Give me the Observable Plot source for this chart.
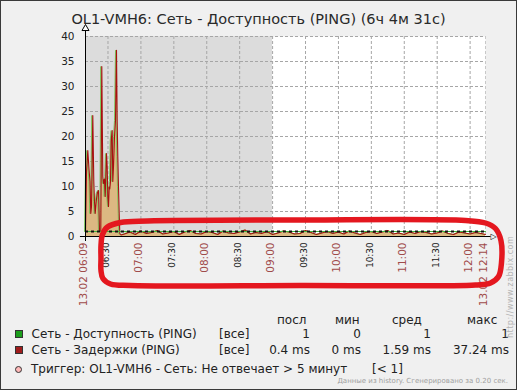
<!DOCTYPE html>
<html><head><meta charset="utf-8">
<script src="https://cdn.jsdelivr.net/npm/d3@7"></script>
<script src="https://cdn.jsdelivr.net/npm/@observablehq/plot@0.6"></script>
<style>
html,body{margin:0;padding:0;background:#fff;}
#chart{position:relative;width:517px;height:390px;background:#f0f0f0;overflow:hidden;font-family:"DejaVu Sans",sans-serif;color:#222;}
#chart svg{position:absolute;left:0;top:0;}
.abs{position:absolute;white-space:nowrap;}
#border{position:absolute;left:0;top:0;width:517px;height:390px;box-sizing:border-box;border:1px solid #3a3a3a;pointer-events:none;}
</style></head><body><div id="chart"></div>
<script>
// ---------- data ----------
const title = "OL1-VMH6: Сеть - Доступность (PING) (6ч 4м 31с)";
const startTime = "06:09:30", endTime = "12:14:01";
const shadeFrom = "06:09:30", shadeTo = "09:00:00";
const yTicks = [0, 5, 10, 15, 20, 25, 30, 35, 40];
const halfHourTicks = ["06:30", "07:30", "08:30", "09:30", "10:30", "11:30"];
const hourTicks = ["07:00", "08:00", "09:00", "10:00", "11:00", "12:00"];
const edgeTimes = ["06:09:30", "12:14:01"];
const edgeLabels = ["13.02 06:09", "13.02 12:14"];

const latencyTimes = [
  "06:09:30","06:10:25","06:11:36","06:12:41","06:13:36","06:14:20","06:14:58","06:16:09","06:17:04","06:17:42",
  "06:18:20","06:19:15","06:20:10","06:21:21","06:22:16","06:23:26","06:24:21","06:25:16","06:25:54","06:26:49",
  "06:27:27","06:28:00","06:28:38","06:29:16","06:29:49","06:30:28","06:31:06","06:31:38","06:32:17","06:32:55",
  "06:33:50","06:34:23","06:35:01","06:35:56","06:36:50","06:37:45","06:38:23","06:38:56","06:39:34","06:40:13",
  "06:40:46",
  "06:42","06:45","06:50","06:55",
  "07:00","07:05","07:10","07:15","07:20","07:25","07:30","07:35","07:40","07:45","07:50","07:55",
  "08:00","08:05","08:10","08:15","08:20","08:25","08:30","08:35","08:40","08:45","08:50","08:55",
  "09:00","09:05","09:10","09:15","09:20","09:25","09:30","09:35","09:40","09:45","09:50","09:55",
  "10:00","10:05","10:10","10:15","10:20","10:25","10:30","10:35","10:40","10:45","10:50","10:55",
  "11:00","11:05","11:10","11:15","11:20","11:25","11:30","11:35","11:40","11:45","11:50","11:55",
  "12:00","12:05","12:10","12:14:01"
];
const latencyValues = [
  1.0, 13, 17.2, 13.5, 11, 4.6, 6, 24.2, 11, 7,
  4.6, 7, 8.6, 9.2, 1.0, 1.0, 34, 12, 10.6, 11.5,
  8, 12, 16.6, 14, 8, 6, 9.9, 9.5, 11, 19.2,
  21.2, 11, 14, 20, 23.2, 37.24, 23, 16, 10, 4.6,
  0.6,
  0.3, 0.5, 0.9, 0.4,
  1.1, 0.6, 0.8, 1.2, 0.5, 0.7, 1.0, 0.4, 0.9, 1.2, 0.6, 0.5,
  1.0, 0.8, 0.4, 1.1, 0.7, 0.6, 0.9, 1.3, 0.5, 0.8, 0.6, 1.0,
  0.4, 0.7, 1.1, 0.9, 0.5, 0.6, 1.2, 0.8, 0.4, 0.7, 1.0, 0.6,
  0.9, 0.5, 1.1, 0.7, 0.4, 0.8, 1.0, 0.6, 0.9, 1.2, 0.5, 0.7,
  0.4, 0.9, 0.6, 1.0, 0.8, 0.5, 0.7, 1.1, 0.6, 0.4, 0.9, 0.7,
  0.5, 0.8, 0.6, 0.4
];
const availabilityTimes = ["06:09:30", "12:14:01"];
const availabilityValues = [1, 1];
const triggerValue = 1;

// hand-drawn red annotation (time, value)
const ovalTimes = ["06:23:37","06:23:37","06:24:59","06:29:33","06:41:23","07:06:00","09:25:24","11:55:48","12:14:00","12:23:06",
                   "12:28:06","12:28:36","12:25:54","12:18:36","12:04:54","09:25:24","06:50:30","06:32:18","06:25:24","06:23:37"];
const ovalValues = [-4.4,-1.8,0.4,1.9,2.8,3.1,3.3,3.2,2.7,1.6,
                    -0.8,-5.2,-8,-9.3,-9.7,-9.8,-9.8,-9.5,-8.4,-6.8];

const legendHeaders = ["посл", "мин", "сред", "макс"];
const seriesNames = ["Сеть - Доступность (PING)", "Сеть - Задержки (PING)"];
const seriesColors = ["#1c9e1c", "#a01c1c"];
const seriesStats = [["1", "0", "1", "1"], ["0.4 ms", "0 ms", "1.59 ms", "37.24 ms"]];
const triggerText = "Триггер: OL1-VMH6 - Сеть: Не отвечает > 5 минут";
const triggerCond = "[< 1]";
const footerText = "Данные из history. Сгенерировано за 0.20 сек.";
const watermark = "http://www.zabbix.com";

// ---------- build ----------
const parseT = d3.utcParse("%H:%M:%S");
const T = s => parseT(s.length === 5 ? s + ":00" : s);
const latency = latencyTimes.map((t, i) => ({t: T(t), v: latencyValues[i]}));
const availability = availabilityTimes.map((t, i) => ({t: T(t), v: availabilityValues[i]}));
const oval = ovalTimes.map((t, i) => ({t: T(t), v: ovalValues[i]}));
const gridTimes = [...halfHourTicks, ...hourTicks].map(T);
const edges = edgeTimes.map((t, i) => ({t: T(t), label: edgeLabels[i]}));
const t0 = T(startTime), t1 = T(endTime);
const minute = 60000;

const plot = Plot.plot({
  width: 517, height: 310,
  marginLeft: 85, marginRight: 32, marginTop: 36, marginBottom: 74,
  x: {type: "utc", domain: [t0, t1], axis: null},
  y: {domain: [0, 40], axis: null},
  style: {background: "transparent", fontFamily: "DejaVu Sans", overflow: "visible"},
  marks: [
    Plot.frame({fill: "#ffffff", stroke: "none"}),
    Plot.rect([{a: T(shadeFrom), b: T(shadeTo)}], {x1: "a", x2: "b", y1: 0, y2: 40, fill: "#dcdcdc"}),
    Plot.ruleY(yTicks.filter(d => d > 0), {stroke: "#a6a6a6", strokeDasharray: "3,2"}),
    Plot.ruleX(gridTimes, {stroke: "#a6a6a6", strokeDasharray: "3,2"}),
    Plot.ruleX([t1], {stroke: "#c8c8c8", strokeDasharray: "3,2"}),
    Plot.areaY(latency, {x: "t", y: "v", fill: "#dcb882"}),
    Plot.line(latency, {x: "t", y: "v", stroke: "#7cc45a", strokeWidth: 1, dx: -1}),
    Plot.line(latency, {x: "t", y: "v", stroke: "#a81010", strokeWidth: 1.1}),
    Plot.line(availability, {x: "t", y: "v", stroke: "#3cb43c", strokeWidth: 1}),
    Plot.ruleY([triggerValue], {stroke: "#111", strokeWidth: 2, strokeDasharray: "3,3"}),
    // axes
    Plot.ruleX([t0], {y1: -1, y2: 41.3, stroke: "#000"}),
    Plot.ruleY([0], {x1: new Date(+t0 - 4.6 * minute), x2: new Date(+t1 + 5 * minute), stroke: "#000"}),
    Plot.dot([t0], {x: d => d, y: 41.6, symbol: "triangle", r: 2.6, stroke: "#000", fill: "#fff", strokeWidth: 1}),
    Plot.text([t1], {x: d => d, y: 0, text: () => "▷", fontSize: 8, fill: "#000", dx: 8}),
    Plot.text(yTicks, {y: d => d, frameAnchor: "left", text: d => String(d), textAnchor: "end", dx: -11, fontSize: 10.5, fill: "#222"}),
    Plot.text(halfHourTicks, {x: d => T(d), text: d => d, frameAnchor: "bottom", rotate: -90, textAnchor: "end", dy: 6, dx: 1.5, fontSize: 8.8, fill: "#222"}),
    Plot.text(hourTicks, {x: d => T(d), text: d => d, frameAnchor: "bottom", rotate: -90, textAnchor: "end", dy: 6, dx: 1.5, fontSize: 10.5, fill: "#a04b4b"}),
    Plot.text(edges, {x: "t", text: "label", frameAnchor: "bottom", rotate: -90, textAnchor: "end", dy: 6, dx: 1.5, fontSize: 10.5, fill: "#a04b4b"}),
    Plot.line(oval, {x: "t", y: "v", stroke: "#e4171f", strokeWidth: 5.5, curve: "catmull-rom-closed", strokeLinejoin: "round"})
  ]
});
const chart = document.getElementById("chart");
chart.appendChild(plot);

function place(text, x, base, fs, opts = {}) {
  const d = document.createElement("div");
  d.className = "abs";
  d.textContent = text;
  const L = 0.9 * fs;
  d.style.fontSize = fs + "px";
  d.style.lineHeight = L + "px";
  d.style.top = (base - L / 2 - 0.346 * fs) + "px";
  d.style.left = x + "px";
  if (opts.anchor === "end") d.style.transform = "translateX(-100%)";
  if (opts.anchor === "middle") d.style.transform = "translateX(-50%)";
  if (opts.color) d.style.color = opts.color;
  if (opts.ls) d.style.letterSpacing = opts.ls + "px";
  chart.appendChild(d);
  return d;
}
function box(x, y, w, h, fill, round) {
  const d = document.createElement("div");
  d.className = "abs";
  Object.assign(d.style, {left: x + "px", top: y + "px", width: w + "px", height: h + "px",
    background: fill, boxSizing: "border-box", border: "1px solid #333", borderRadius: round ? "50%" : "0"});
  chart.appendChild(d);
}

place(title, 258.5, 25, 14.5, {anchor: "middle", color: "#2a2a2a"});

const headerX = [277, 335, 392, 467];
const colRight = [310, 361, 431, 509];
legendHeaders.forEach((h, i) => place(h, headerX[i], 324.3, 12));
const rowBase = [338.5, 354.5];
seriesNames.forEach((n, r) => {
  box(15, rowBase[r] - 8.5, 8, 8, seriesColors[r]);
  place(n, 31.5, rowBase[r], 12);
  place("[все]", 219, rowBase[r], 12);
  seriesStats[r].forEach((v, i) => place(v, colRight[i], rowBase[r], 12, {anchor: "end"}));
});
box(15, 366, 7, 7, "#ffb8b8", true);
place(triggerText, 31, 373.5, 12);
place(triggerCond, 372, 373.5, 12);
place(footerText, 508, 384, 7, {anchor: "end", color: "#a0a0a0"});

const wm = place(watermark, 506.5, 0, 8, {color: "#b4b4b4", ls: 0.5});
wm.style.top = "338px";
wm.style.transformOrigin = "0 0";
wm.style.transform = "rotate(-90deg)";

const border = document.createElement("div");
border.id = "border";
chart.appendChild(border);
</script>
</body></html>
